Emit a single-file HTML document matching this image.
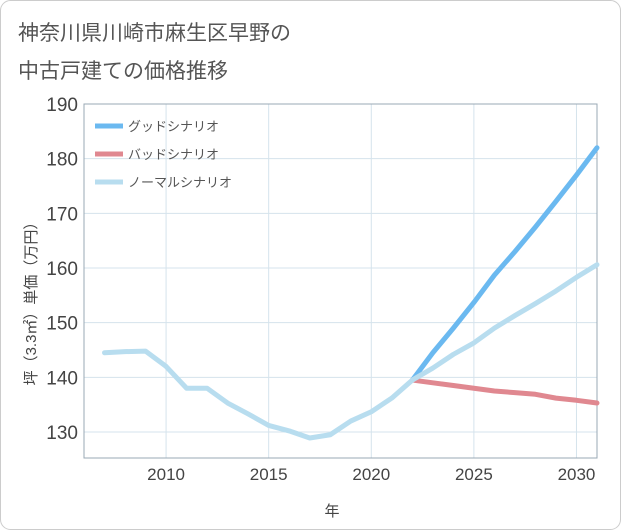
<!DOCTYPE html>
<html><head><meta charset="utf-8"><style>
body{margin:0;background:#fff;}
svg{display:block;font-family:"Liberation Sans","Noto Sans CJK JP",sans-serif;}
</style></head><body>
<svg id="c" width="621" height="530">
<rect x="0.5" y="0.5" width="620" height="529" rx="10" fill="#fff" stroke="#ccc"/>
<text x="18" y="40" font-size="21" fill="#555">神奈川県川崎市麻生区早野の</text>
<text x="18" y="78" font-size="21" fill="#555">中古戸建ての価格推移</text>
<g id="grid"></g><g id="series"></g>
<text x="332" y="516" font-size="15" fill="#444" text-anchor="middle">年</text>
<text transform="translate(36,300) rotate(-90)" font-size="15" fill="#444" text-anchor="middle">坪（3.3㎡）単価（万円）</text>
<g>
<line x1="95" y1="126" x2="123" y2="126" stroke="#6bb9f0" stroke-width="5"/>
<text x="128" y="131" font-size="13" fill="#555">グッドシナリオ</text>
<line x1="95" y1="154" x2="123" y2="154" stroke="#e08890" stroke-width="5"/>
<text x="128" y="159" font-size="13" fill="#555">バッドシナリオ</text>
<line x1="95" y1="182" x2="123" y2="182" stroke="#b8ddef" stroke-width="5"/>
<text x="128" y="187" font-size="13" fill="#555">ノーマルシナリオ</text>
</g>
</svg>
<script>
const normalYears=[2007,2008,2009,2010,2011,2012,2013,2014,2015,2016,2017,2018,2019,2020,2021,2022,2023,2024,2025,2026,2027,2028,2029,2030,2031];
const normalValues=[144.5,144.7,144.8,142,138,138,135.3,133.3,131.2,130.2,128.9,129.5,132,133.7,136.2,139.5,141.7,144.2,146.3,149,151.3,153.5,155.8,158.3,160.6];
const futureYears=[2022,2023,2024,2025,2026,2027,2028,2029,2030,2031];
const goodValues=[139.5,144.5,149,153.7,158.7,163,167.5,172.2,177,182];
const badValues=[139.5,139,138.5,138,137.5,137.2,136.9,136.2,135.8,135.3];
const yTicks=[130,140,150,160,170,180,190];
const xTicks=[2010,2015,2020,2025,2030];
const L=84,R=597,T=104,B=458;
const xs=y=>L+(y-2006)*(R-L)/25;
const ys=v=>432-(v-130)*(432-T)/60;
const NS="http://www.w3.org/2000/svg";
const g=document.getElementById('grid'),s=document.getElementById('series');
function mk(p,tag,a){const e=document.createElementNS(NS,tag);for(const k in a)e.setAttribute(k,a[k]);p.appendChild(e);return e;}
yTicks.forEach(v=>{const l=mk(g,'line',{x1:L,x2:R,y1:ys(v),y2:ys(v),stroke:'#d5e3ec'});


const t=mk(g,'text',{x:L-6,y:ys(v)+7,'font-size':19,fill:'#444','text-anchor':'end'});t.textContent=v;

});
xTicks.forEach(v=>{const l=mk(g,'line',{x1:xs(v),x2:xs(v),y1:T,y2:B,stroke:'#d5e3ec'});


const t=mk(g,'text',{x:xs(v),y:480,'font-size':17,fill:'#444','text-anchor':'middle'});t.textContent=v;

});
const fr=mk(g,'rect',{x:L,y:T,width:R-L,height:B-T,fill:'none',stroke:'#9aa8b4'});


function line(xa,va,col,name){const p=mk(s,'polyline',{points:xa.map((y,i)=>xs(y)+','+ys(va[i])).join(' '),fill:'none',stroke:col,'stroke-width':5,'stroke-linejoin':'round','stroke-linecap':'round'});

}
line(futureYears,goodValues,'#6bb9f0','good-scenario-line');
line(futureYears,badValues,'#e08890','bad-scenario-line');
line(normalYears,normalValues,'#b8ddef','normal-scenario-line');
</script>
</body></html>
